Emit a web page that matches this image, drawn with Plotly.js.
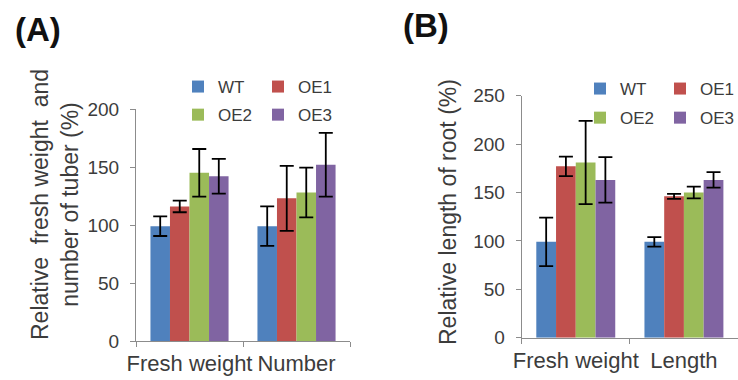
<!DOCTYPE html>
<html>
<head>
<meta charset="utf-8">
<script src="https://cdn.plot.ly/plotly-3.0.1.min.js"></script>
<style>html,body{margin:0;padding:0;background:#fff;}#chart{width:738px;height:380px;}</style>
</head>
<body>
<div id="chart"></div>
<script>
// ---------- data ----------
const seriesNames = ['WT', 'OE1', 'OE2', 'OE3'];
const seriesColors = ['#4F81BD', '#C0504D', '#9BBB59', '#8064A2'];

// Panel A: tuber
const catsA = ['Fresh weight', 'Number'];
const wtA = [99, 99];
const oe1A = [116, 123];
const oe2A = [145, 128];
const oe3A = [142, 152];
const wtAErr = [8.5, 17];
const oe1AErr = [5, 28];
const oe2AErr = [20.5, 21.5];
const oe3AErr = [15, 27.5];
const ticksA = [0, 50, 100, 150, 200];

// Panel B: root
const catsB = ['Fresh weight', 'Length'];
const wtB = [99, 99];
const oe1B = [177, 146];
const oe2B = [181, 150];
const oe3B = [163, 163];
const wtBErr = [25, 5];
const oe1BErr = [10, 2.5];
const oe2BErr = [43, 6];
const oe3BErr = [23.5, 8];
const ticksB = [0, 50, 100, 150, 200, 250];

const FONT = '"Liberation Sans", Arial, sans-serif';
const TXT = '#3c3c3c';
const AX = '#8c8c8c';

const valsA = [wtA, oe1A, oe2A, oe3A];
const errsA = [wtAErr, oe1AErr, oe2AErr, oe3AErr];
const valsB = [wtB, oe1B, oe2B, oe3B];
const errsB = [wtBErr, oe1BErr, oe2BErr, oe3BErr];

// legend layout: 2x2 grid built from two vertical legends per panel
const legA = ['legend', 'legend2', 'legend', 'legend2'];
const legB = ['legend3', 'legend4', 'legend3', 'legend4'];

const traces = [];
seriesNames.forEach((name, i) => {
  traces.push({
    type: 'bar', name: name, x: catsA, y: valsA[i],
    xaxis: 'x', yaxis: 'y',
    marker: {color: seriesColors[i]},
    error_y: {type: 'data', array: errsA[i], visible: true, color: '#000', thickness: 1.8, width: 7},
    legend: legA[i], legendgroup: 'A' + name
  });
});
seriesNames.forEach((name, i) => {
  traces.push({
    type: 'bar', name: name, x: catsB, y: valsB[i],
    xaxis: 'x2', yaxis: 'y2',
    marker: {color: seriesColors[i]},
    error_y: {type: 'data', array: errsB[i], visible: true, color: '#000', thickness: 1.8, width: 7},
    legend: legB[i], legendgroup: 'B' + name
  });
});

const W = 738, H = 380;
function legendAt(left, top, gap) {
  return {
    xref: 'paper', yref: 'paper',
    x: left / W, y: 1 - top / H, xanchor: 'left', yanchor: 'top',
    orientation: 'v', traceorder: 'grouped', tracegroupgap: gap,
    indentation: -10, bgcolor: 'rgba(0,0,0,0)', borderwidth: 0,
    font: {family: FONT, size: 17, color: TXT}
  };
}

function xAxis(domain, anchor) {
  return {
    domain: domain, anchor: anchor, type: 'category', automargin: false,
    showline: true, linecolor: AX, linewidth: 1,
    ticks: 'outside', tickson: 'boundaries', ticklen: 5, tickcolor: AX,
    tickangle: 0, ticklabelstandoff: 3,
    tickfont: {family: FONT, size: 22, color: TXT},
    showgrid: false, zeroline: false, fixedrange: true
  };
}
function yAxis(domain, anchor, range, tickvals) {
  return {
    domain: domain, anchor: anchor, range: range, automargin: false,
    tickvals: tickvals, ticktext: tickvals.map(String),
    showline: true, linecolor: AX, linewidth: 1,
    ticks: 'outside', ticklen: 5, tickcolor: AX, ticklabelstandoff: 7,
    tickfont: {family: FONT, size: 19, color: TXT},
    showgrid: false, zeroline: false, fixedrange: true
  };
}

const layout = {
  width: W, height: H,
  margin: {l: 0, r: 0, t: 0, b: 0, autoexpand: false},
  paper_bgcolor: '#fff', plot_bgcolor: '#fff',
  barmode: 'group', bargap: 0.27, bargroupgap: 0,
  showlegend: true,
  font: {family: FONT, color: TXT},
  xaxis: xAxis([136 / W, 350 / W], 'y'),
  yaxis: yAxis([(H - 341) / H, (H - 109) / H], 'x', [0, 200], ticksA),
  xaxis2: xAxis([521.7 / W, 1], 'y2'),
  yaxis2: yAxis([(H - 337.7) / H, (H - 95.7) / H], 'x2', [0, 250], ticksB),
  legend: legendAt(188, 69, 3),
  legend2: legendAt(268, 69, 3),
  legend3: legendAt(590, 71, 4),
  legend4: legendAt(670, 71, 4),
  annotations: [
    {text: '<b>(A)</b>', xref: 'paper', yref: 'paper', x: 38 / W, y: 1 - 29 / H,
     xanchor: 'center', yanchor: 'middle', showarrow: false,
     font: {family: FONT, size: 33, color: '#111'}},
    {text: '<b>(B)</b>', xref: 'paper', yref: 'paper', x: 426 / W, y: 1 - 26 / H,
     xanchor: 'center', yanchor: 'middle', showarrow: false,
     font: {family: FONT, size: 33, color: '#111'}},
    {text: 'Relative  fresh weight  and<br>number of tuber (%)', xref: 'paper', yref: 'paper',
     x: 55 / W, y: 1 - 205 / H, xanchor: 'center', yanchor: 'middle', textangle: -90,
     showarrow: false, font: {family: FONT, size: 23, color: TXT}},
    {text: 'Relative length of root (%)', xref: 'paper', yref: 'paper',
     x: 448 / W, y: 1 - 212 / H, xanchor: 'center', yanchor: 'middle', textangle: -90,
     showarrow: false, font: {family: FONT, size: 23, color: TXT}}
  ]
};

Plotly.newPlot('chart', traces, layout, {displayModeBar: false, staticPlot: true});
</script>
</body>
</html>
